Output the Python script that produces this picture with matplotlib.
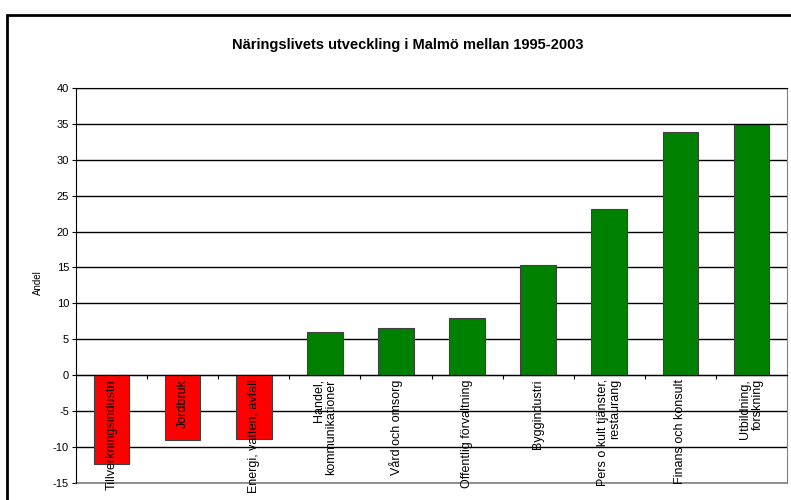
import numpy as np
import matplotlib
matplotlib.use('Agg')
import matplotlib.pyplot as plt
from matplotlib.patches import Rectangle

plt.rcParams['font.family'] = ['Liberation Sans', 'DejaVu Sans']

# data
categories = ['Tillverkningsindustri', 'Jordbruk', 'Energi, vatten, avfall',
              'Handel,\nkommunikationer', 'Vård och omsorg', 'Offentlig förvaltning',
              'Byggindustri', 'Pers o kult tjänster,\nrestaurang', 'Finans och konsult',
              'Utbildning,\nforskning']
values = [-12.4, -9.0, -8.9, 6.0, 6.5, 7.9, 15.4, 23.1, 33.8, 34.9]
yticks = list(range(-15, 41, 5))
title = 'Näringslivets utveckling i Malmö mellan 1995-2003'
ylabel = 'Andel'

fig = plt.figure(figsize=(7.91, 5.0), dpi=100)
fig.patch.set_facecolor('white')

# outer chart frame (right/bottom run off the picture)
fig.patches.append(Rectangle((7 / 791, -0.2), 1.2, 0.97 + 0.2, transform=fig.transFigure,
                             fill=False, edgecolor='black', lw=2))

ax = fig.add_axes([76 / 791, 1 - 482.7 / 500, (787 - 76) / 791, (482.7 - 88) / 500])

x = np.arange(len(values))
colors = ['#FF0000' if v < 0 else '#008000' for v in values]
ax.bar(x, values, width=0.5, color=colors, edgecolor='#404040', lw=0.8, zorder=2)

ax.set_xlim(-0.5, len(values) - 0.5)
ax.set_ylim(-15, 40)
ax.set_yticks(yticks)
ax.set_yticklabels([str(t) for t in yticks], fontsize=8)
ax.yaxis.grid(True, color='black', lw=1)
ax.tick_params(axis='y', length=3, width=0.8, pad=2, direction='out')

# x axis sits on zero, ticks between categories
ax.spines['bottom'].set_position(('data', 0))
ax.spines['bottom'].set_color('black')
ax.spines['bottom'].set_zorder(3)
ax.set_xticks(np.arange(0.5, len(values) - 0.5, 1))
ax.set_xticklabels([])
ax.tick_params(axis='x', length=3, width=0.8, direction='out')
ax.spines['left'].set_color('black')
ax.spines['top'].set_color('black')
ax.spines['right'].set_color('#808080')
ax.axhline(-15, color='#808080', lw=1.2, clip_on=False)

for i, lab in enumerate(categories):
    ax.annotate(lab, xy=(i, 0), xytext=(0, -3), textcoords='offset points',
                rotation=90, ha='center', va='top', multialignment='right',
                fontsize=9, zorder=5, linespacing=1.0)

fig.text(0.515, 0.91, title, ha='center', va='center', fontsize=10.5, fontweight='bold')
fig.text(38 / 791, 0.434, ylabel, rotation=90, ha='center', va='center', fontsize=7)

fig.savefig('out.png', dpi=100)
